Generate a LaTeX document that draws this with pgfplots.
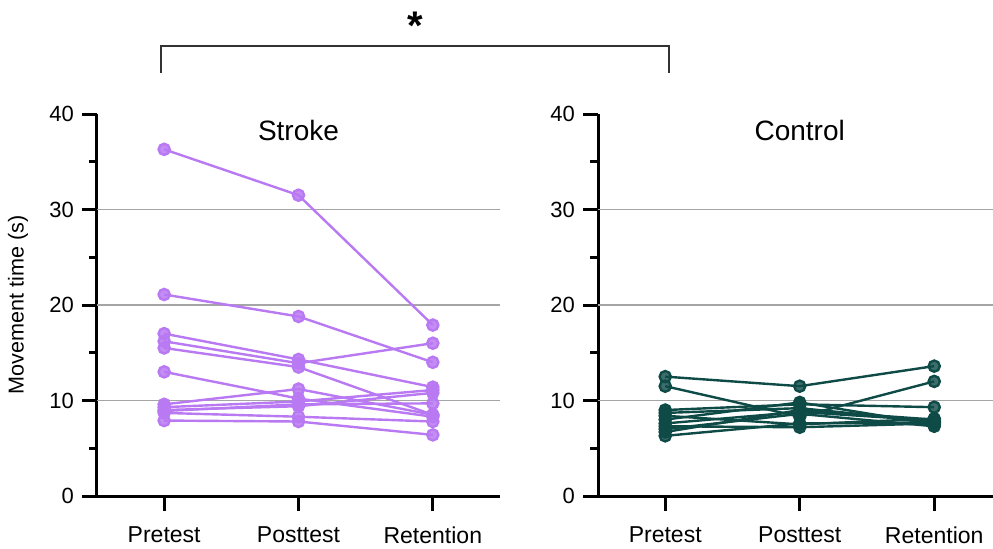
\documentclass[border=0pt]{standalone}
\usepackage{fontspec}
\setmainfont{Liberation Sans}
\usepackage{pgfplots}
\pgfplotsset{compat=1.18}
\definecolor{strokec}{RGB}{184,121,242}
\definecolor{controlc}{RGB}{14,74,70}
\pgfplotsset{
  sp/.style={color=strokec, solid, line width=1.2pt, mark=*, mark size=2.8pt, mark options={fill=strokec, draw=none, fill opacity=0.85}},
  cp/.style={color=controlc, solid, line width=1.2pt, mark=*, mark size=2.8pt, mark options={fill=controlc, draw=none, fill opacity=0.8}},
  panel/.style={
    scale only axis,
    width=201.5pt, height=191pt,
    xmin=-0.5, xmax=2.5, ymin=0, ymax=40,
    axis x line=bottom, axis y line=left,
    axis line style={-, line width=1.5pt, black},
    tick align=outside,
    major tick length=7.5pt, minor tick length=4pt,
    every tick/.style={line width=1.5pt, black},
    xtick={0,1,2}, xticklabels={Pretest,Posttest,Retention},
    ytick={0,10,20,30,40}, minor ytick={5,15,25,35},
    /pgf/number format/assume math mode=true,
    tick label style={font=\fontsize{11}{13}\selectfont},
    xticklabel style={yshift=-4.5pt, font=\fontsize{11.5}{13}\selectfont},
    yticklabel style={xshift=-0.5pt},
    extra y ticks={10,20,30},
    extra y tick labels={},
    extra y tick style={grid=major, major tick length=0pt, tick style={draw=none}},
    major grid style={line width=0.9pt, draw={rgb,255:red,165;green,165;blue,165}},
    clip=false,
  },
}
\begin{document}
\begin{tikzpicture}
\begin{axis}[panel,
  ylabel={Movement time (s)},
  ylabel style={at={(axis description cs:-0.196,0.5)}, anchor=center, font=\fontsize{10.8}{12}\selectfont},
]
\addplot[sp] coordinates {(0,36.3)(1,31.5)(2,17.9)};
\addplot[sp] coordinates {(0,21.1)(1,18.8)(2,14.0)};
\addplot[sp] coordinates {(0,17.0)(1,14.3)(2,11.4)};
\addplot[sp] coordinates {(0,16.2)(1,13.9)(2,16.0)};
\addplot[sp] coordinates {(0,15.5)(1,13.5)(2,8.5)};
\addplot[sp] coordinates {(0,13.0)(1,10.2)(2,8.3)};
\addplot[sp] coordinates {(0,9.6)(1,11.2)(2,8.5)};
\addplot[sp] coordinates {(0,9.3)(1,9.9)(2,11.1)};
\addplot[sp] coordinates {(0,9.0)(1,9.4)(2,10.8)};
\addplot[sp] coordinates {(0,8.9)(1,9.6)(2,9.7)};
\addplot[sp] coordinates {(0,8.7)(1,8.3)(2,7.8)};
\addplot[sp] coordinates {(0,7.9)(1,7.8)(2,6.4)};
\node[font=\fontsize{14}{16}\selectfont] at (axis cs:1,38.3) {Stroke};
\end{axis}
\begin{axis}[panel, at={(250.5pt,0pt)}, width=197.5pt, xmax=2.437]
\addplot[cp] coordinates {(0,12.5)(1,11.5)(2,13.6)};
\addplot[cp] coordinates {(0,11.5)(1,8.3)(2,12.0)};
\addplot[cp] coordinates {(0,9.0)(1,9.6)(2,9.3)};
\addplot[cp] coordinates {(0,8.7)(1,9.2)(2,7.8)};
\addplot[cp] coordinates {(0,8.4)(1,7.5)(2,8.1)};
\addplot[cp] coordinates {(0,8.0)(1,9.8)(2,7.5)};
\addplot[cp] coordinates {(0,7.6)(1,8.8)(2,7.9)};
\addplot[cp] coordinates {(0,7.3)(1,7.2)(2,7.6)};
\addplot[cp] coordinates {(0,7.0)(1,8.6)(2,7.3)};
\addplot[cp] coordinates {(0,6.7)(1,9.0)(2,8.0)};
\addplot[cp] coordinates {(0,6.3)(1,7.6)(2,7.7)};
\node[font=\fontsize{14}{16}\selectfont] at (axis cs:1,38.3) {Control};
\end{axis}
\draw[line width=0.75pt, draw={rgb,255:red,50;green,50;blue,50}] (32pt,211.5pt) -- (32pt,225pt) -- (286pt,225pt) -- (286pt,211.5pt);
\node[font=\fontsize{20}{22}\selectfont\bfseries] at (159pt,235pt) {*};
\pgfresetboundingbox
\useasboundingbox (-48.5pt,-26pt) rectangle (448pt,248pt);
\end{tikzpicture}
\end{document}
